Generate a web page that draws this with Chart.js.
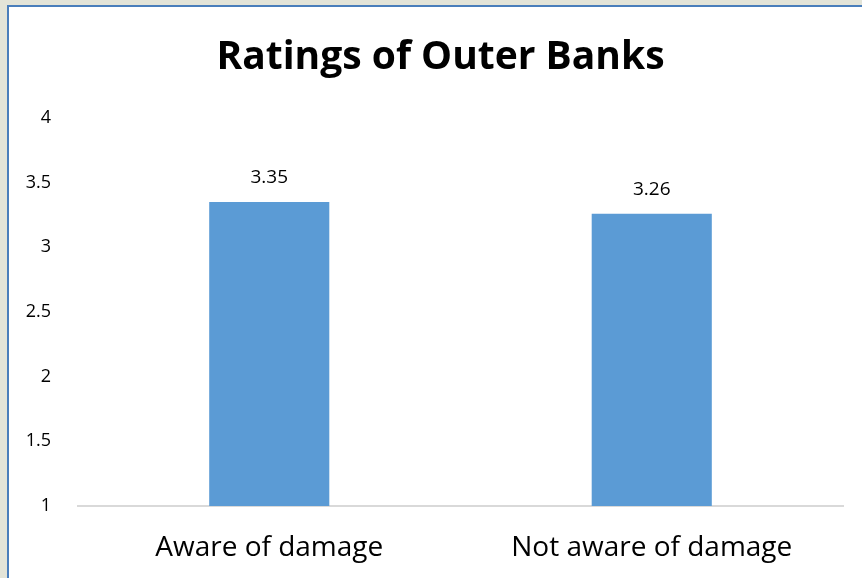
<!DOCTYPE html>
<html>
<head>
<meta charset="utf-8">
<script src="https://cdn.jsdelivr.net/npm/chart.js@4.4.1/dist/chart.umd.min.js"></script>
<style>
  html, body { margin: 0; padding: 0; background: #e3e4d8; width: 862px; height: 578px; overflow: hidden; }
  #frame { position: absolute; left: 7px; top: 5px; width: 853px; height: 571px;
           border-left: 2px solid #4a7ebb; border-top: 2px solid #4a7ebb; background: #fff; }
  #chart { display: block; }
</style>
</head>
<body>
<div id="frame"><canvas id="chart" width="853" height="571"></canvas></div>
<script>
const categories = ['Aware of damage', 'Not aware of damage'];
const ratings = [3.35, 3.26];
const yTicks = [1, 1.5, 2, 2.5, 3, 3.5, 4];
const chartTitle = 'Ratings of Outer Banks';

const font = "'Open Sans', 'Liberation Sans', sans-serif";

// value labels above each bar, plus the title (the Excel original centres it
// on a chart wider than the visible crop, so it sits a bit right of centre)
const labelsPlugin = {
  id: 'labelsPlugin',
  afterDraw(chart) {
    const c = chart.ctx;
    const meta = chart.getDatasetMeta(0);
    c.save();
    c.fillStyle = '#000';
    c.textAlign = 'center';

    c.font = '19px ' + font;
    c.textBaseline = 'bottom';
    meta.data.forEach((bar, i) => {
      c.fillText(ratings[i].toFixed(2), bar.x, bar.y - 15);
    });

    c.font = 'bold 39px ' + font;
    c.textBaseline = 'middle';
    c.fillText(chartTitle, chart.width / 2 + 5, 51);
    c.restore();
  }
};

const ctx = document.getElementById('chart').getContext('2d');

new Chart(ctx, {
  type: 'bar',
  data: {
    labels: categories,
    datasets: [{
      data: ratings,
      backgroundColor: '#5b9bd5',
      barPercentage: 1,
      categoryPercentage: 0.314
    }]
  },
  options: {
    responsive: false,
    animation: false,
    layout: { padding: { left: 0, right: 19, top: 111, bottom: 0 } },
    plugins: {
      legend: { display: false },
      tooltip: { enabled: false },
      title: { display: false }
    },
    scales: {
      x: {
        grid: { display: false, drawTicks: false },
        border: { display: true, color: '#d9d9d9', width: 2 },
        ticks: { color: '#000', font: { family: font, size: 28 }, padding: 25 },
        afterFit(scale) { scale.height = 72; }
      },
      y: {
        min: 1,
        max: 4,
        afterBuildTicks(scale) { scale.ticks = yTicks.map(v => ({ value: v })); },
        grid: { display: false, drawTicks: false },
        border: { display: false },
        ticks: {
          color: '#000',
          font: { family: font, size: 18 },
          padding: 27,
          callback: v => String(v)
        },
        afterFit(scale) { scale.width = 69; }
      }
    }
  },
  plugins: [labelsPlugin]
});
</script>
</body>
</html>
